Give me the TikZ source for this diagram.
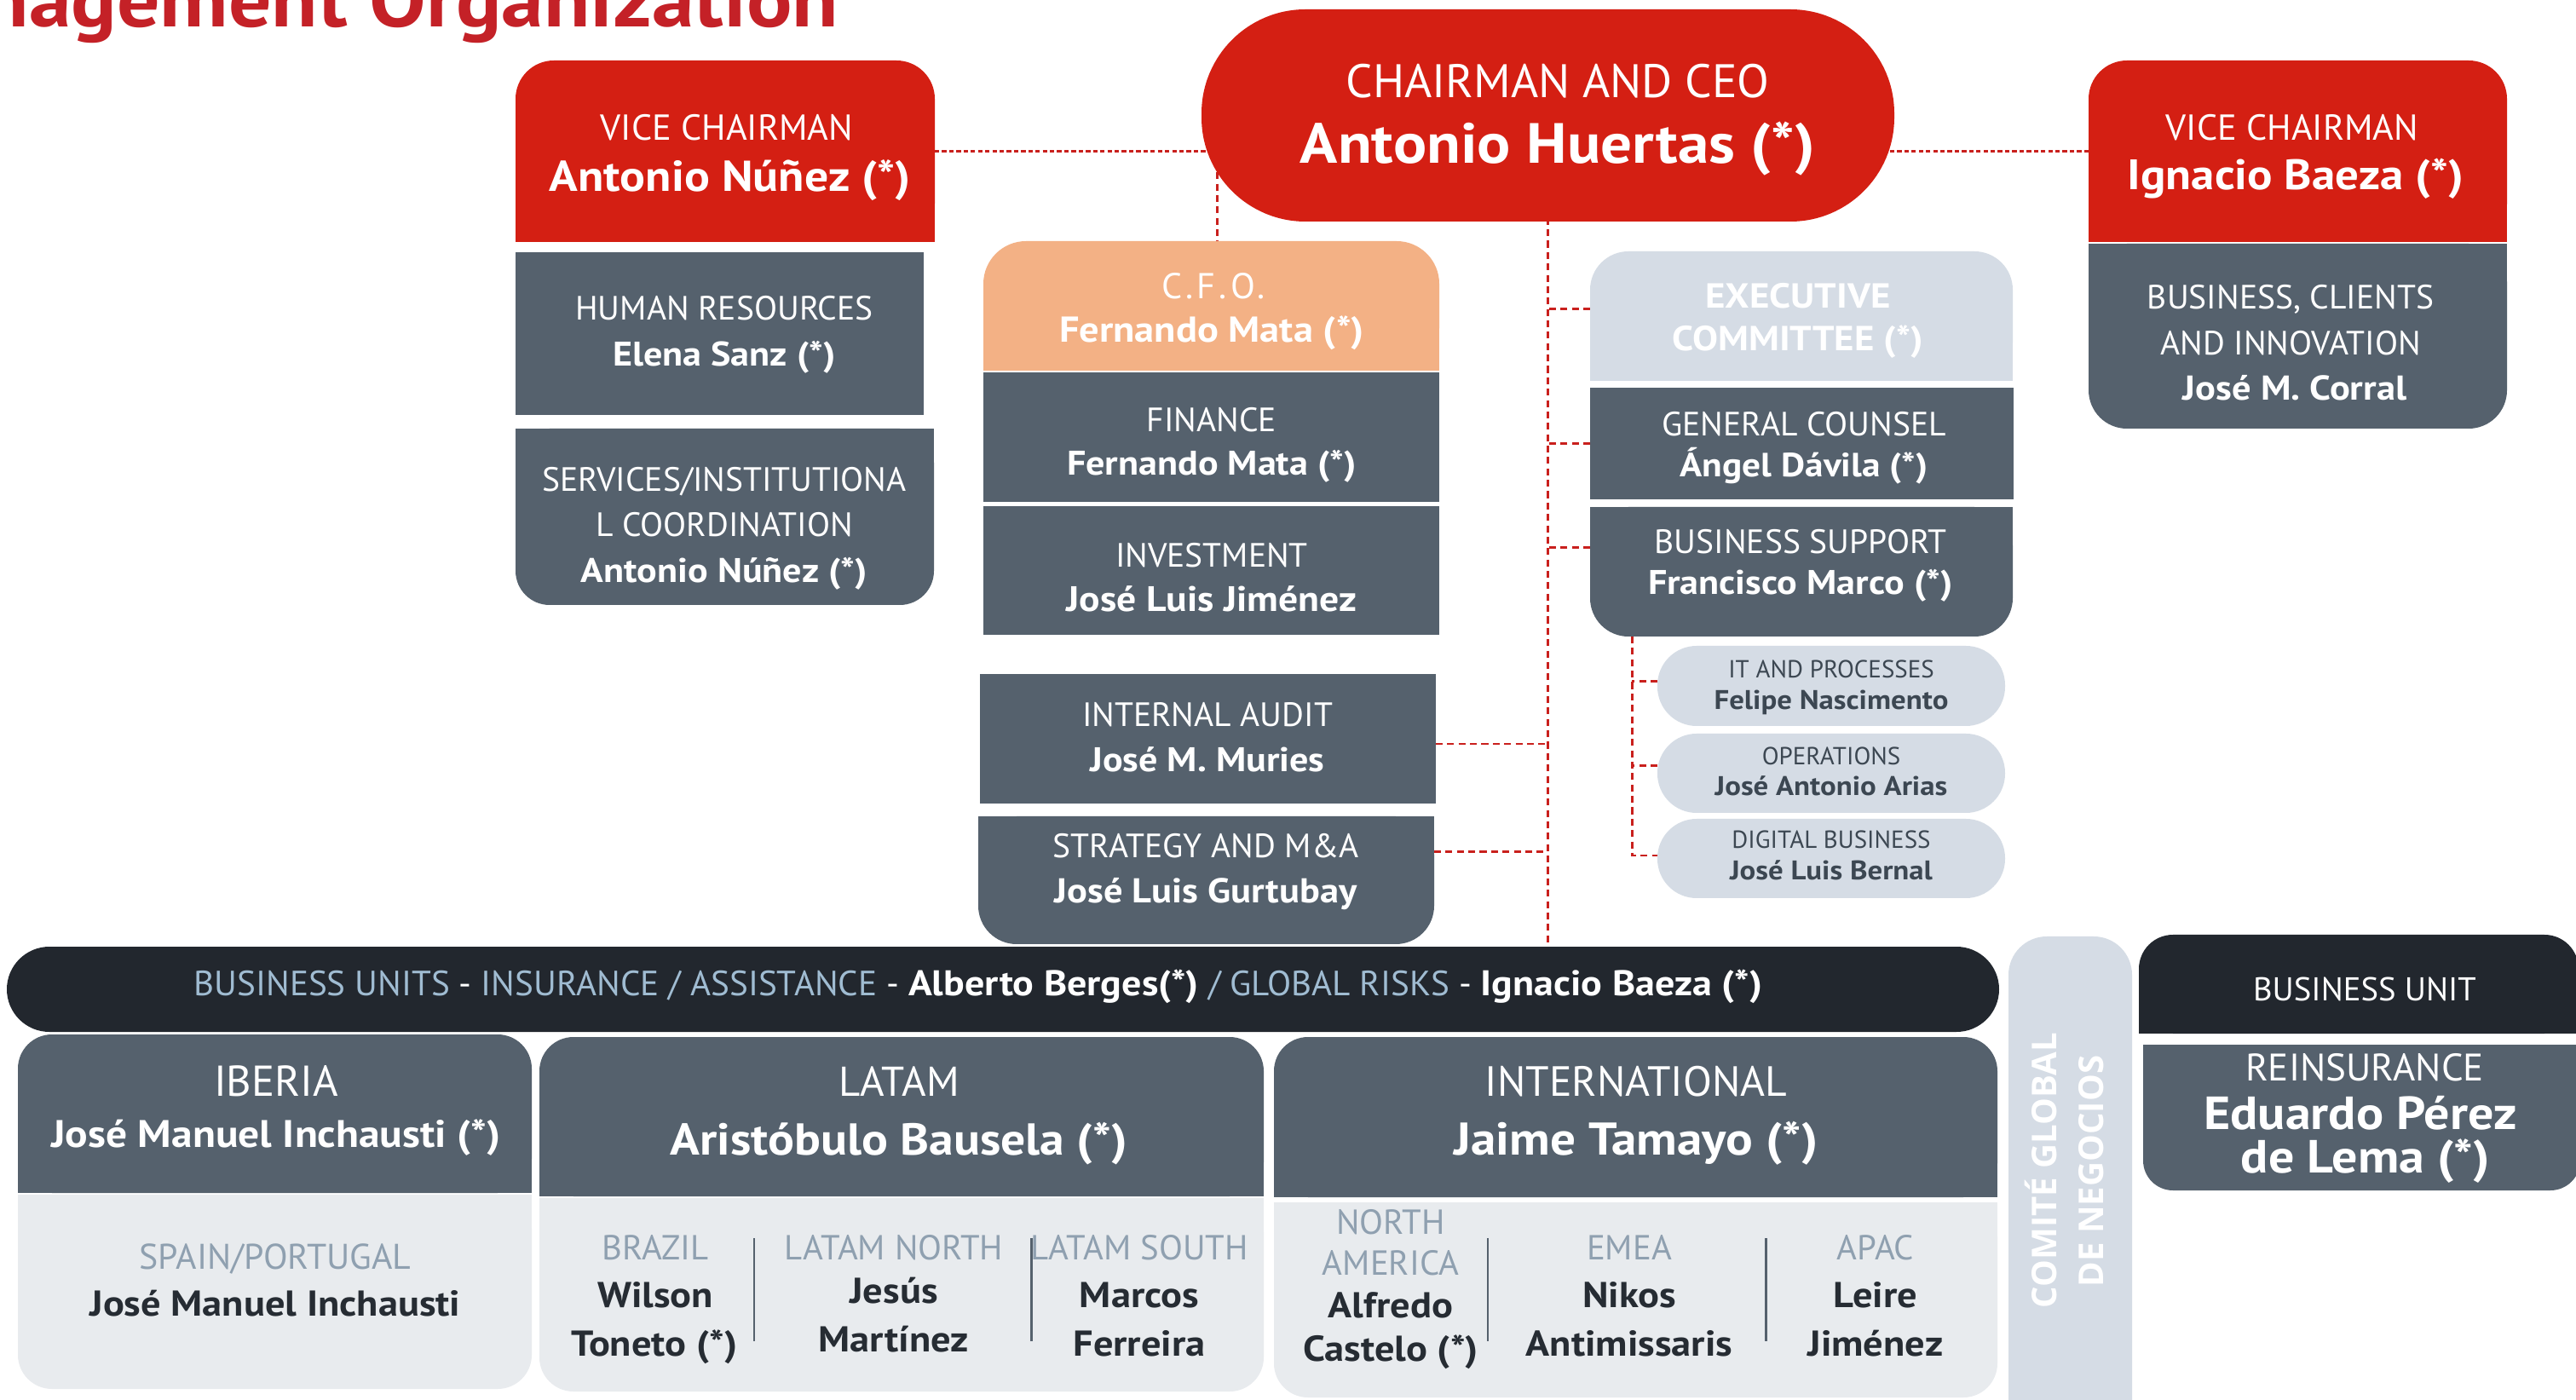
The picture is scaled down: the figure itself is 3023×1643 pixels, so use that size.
\documentclass[tikz,border=0pt]{standalone}
\usepackage{fontspec}
\setmainfont{PT Sans}[BoldFeatures={FakeStretch=1.1}]
\newfontfamily\cmfont{Open Sans}
\definecolor{mred}{HTML}{D41F13}
\definecolor{titlered}{HTML}{C42127}
\definecolor{slate}{HTML}{55616D}
\definecolor{orange}{HTML}{F3B185}
\definecolor{pale}{HTML}{D5DCE5}
\definecolor{light}{HTML}{E8EBEE}
\definecolor{dark}{HTML}{22272E}
\definecolor{bandblue}{HTML}{A0BCD2}
\definecolor{subblue}{HTML}{8FA0B0}
\definecolor{darktext}{HTML}{262C33}
\definecolor{pilltext}{HTML}{3C4752}
\definecolor{dashred}{HTML}{C9201D}
\pgfdeclarelayer{paper}\pgfdeclarelayer{lines}\pgfdeclarelayer{bg}\pgfsetlayers{paper,lines,bg,main}
\newcommand\FS[1]{\fontsize{#1}{#1}\selectfont}
\newcommand\BxNode[5]{\node[inner sep=0pt,outer sep=0pt,minimum width={(#4-#2)*0.01cm},minimum height={(#5-#3)*0.01cm}] (#1) at ({(#2+#4)/2},{(#3+#5)/2}) {};}
\newcommand\BxSq[6]{\BxNode{#1}{#2}{#3}{#4}{#5}\begin{pgfonlayer}{bg}\fill[#6] (#1.south west) rectangle (#1.north east);\end{pgfonlayer}}
\newcommand\BxAll[7]{\BxNode{#1}{#2}{#3}{#4}{#5}\begin{pgfonlayer}{bg}\fill[#6,rounded corners=#7] (#1.south west) rectangle (#1.north east);\end{pgfonlayer}}
\newcommand\BxTop[7]{\BxNode{#1}{#2}{#3}{#4}{#5}\begin{pgfonlayer}{bg}\fill[#6,rounded corners=#7] (#1.south west) rectangle (#1.north east);\fill[#6] (#1.south west) rectangle (#1.east);\end{pgfonlayer}}
\newcommand\BxBot[7]{\BxNode{#1}{#2}{#3}{#4}{#5}\begin{pgfonlayer}{bg}\fill[#6,rounded corners=#7] (#1.south west) rectangle (#1.north east);\fill[#6] (#1.west) rectangle (#1.north east);\end{pgfonlayer}}
\tikzset{
  t/.style={anchor=base,inner sep=0pt,outer sep=0pt,text=white},
  hd/.style={t,font=\FS{11.25}},
  nm/.style={t,font=\bfseries\FS{11.4}},
  ph/.style={t,text=pilltext,font=\FS{8.25}},
  pn/.style={t,text=pilltext,font=\bfseries\FS{9.0}},
  sh/.style={t,text=subblue,font=\FS{11.6}},
  sn/.style={t,text=darktext,font=\bfseries\FS{12.0}},
  dashc/.style={draw=dashred,line width=0.85pt,dash pattern=on 2.3pt off 1.5pt},
  dotc/.style={draw=dashred,line width=0.9pt,dash pattern=on 1.5pt off 0.9pt},
  sepl/.style={draw=slate,line width=0.6pt}
}
\begin{document}
\begin{tikzpicture}[x=0.01cm,y=-0.01cm]
\useasboundingbox (0,0) rectangle (3023,1643);
\begin{pgfonlayer}{paper}
\fill[white] (0,0) rectangle (3023,1643);
\end{pgfonlayer}
% title
\node[anchor=base east,inner sep=0pt,text=titlered,font=\bfseries\FS{25.8}] (title) at (985,32) {nagement Organization};
% boxes
\BxTop{vcl}{605}{71}{1097}{284}{mred}{4.5mm}
\BxSq{hr}{605}{296}{1084}{487}{slate}
\BxBot{serv}{605}{503}{1096}{710}{slate}{4mm}
\BxAll{chair}{1410}{11}{2223}{260}{mred}{12.2mm}
\BxTop{cfo}{1154}{283}{1689}{435}{orange}{5mm}
\BxSq{fin}{1154}{437}{1689}{589}{slate}
\BxSq{inv}{1154}{594}{1689}{745}{slate}
\BxSq{audit}{1150}{791}{1685}{943}{slate}
\BxBot{strat}{1148}{958}{1683}{1108}{slate}{4.5mm}
\BxTop{exec}{1866}{295}{2362}{447}{pale}{4.5mm}
\BxSq{gc}{1866}{455}{2363}{586}{slate}
\BxBot{bs}{1866}{595}{2362}{747}{slate}{4.5mm}
\BxAll{it}{1945}{758}{2353}{852}{pale}{4.6mm}
\BxAll{ops}{1945}{861}{2353}{954}{pale}{4.6mm}
\BxAll{dig}{1945}{961}{2353}{1054}{pale}{4.6mm}
\BxTop{vcr}{2451}{71}{2942}{284}{mred}{4.5mm}
\BxBot{bci}{2451}{286}{2942}{503}{slate}{4.5mm}
\BxAll{band}{8}{1111}{2346}{1211}{dark}{5mm}
\BxTop{iberia}{21}{1214}{624}{1400}{slate}{4mm}
\BxBot{iberiab}{21}{1402}{624}{1630}{light}{4mm}
\BxTop{latam}{633}{1217}{1483}{1404}{slate}{4mm}
\BxBot{latamb}{633}{1406}{1483}{1633}{light}{4mm}
\BxTop{intl}{1495}{1217}{2344}{1405}{slate}{4mm}
\BxBot{intlb}{1495}{1411}{2344}{1640}{light}{4mm}
\BxTop{comite}{2357}{1099}{2502}{1700}{pale}{4.5mm}
\BxTop{bu}{2510}{1097}{3026}{1213}{dark}{4mm}
\BxBot{reins}{2515}{1226}{3028}{1397}{slate}{3.5mm}
% connectors
\begin{pgfonlayer}{lines}
\draw[dotc] (vcl.east) -- (vcl.east -| chair.center);
\draw[dotc] (vcr.west) -- (vcr.west -| chair.center);
\draw[dashc] ([xshift=0.065cm]cfo.north |- chair.center) -- ([xshift=0.065cm]cfo.north);
\draw[dashc] (chair.center) -- (chair.center |- band.north);
\draw[dashc] ([yshift=0.08cm]exec.west) -- ([yshift=0.08cm]exec.west -| chair.center);
\draw[dashc] (gc.west) -- (gc.west -| chair.center);
\draw[dashc] ([yshift=0.28cm]bs.west) -- ([yshift=0.28cm]bs.west -| chair.center);
\draw[dashc] ([yshift=-0.06cm]audit.east) -- ([yshift=-0.06cm]audit.east -| chair.center);
\draw[dashc] ([yshift=0.33cm]strat.east) -- ([yshift=0.33cm]strat.east -| chair.center);
\coordinate (sub) at ([xshift=0.49cm]bs.south west);
\draw[dashc] (sub) |- ([yshift=0.035cm]dig.west);
\draw[dashc] ([yshift=0.05cm]it.west) -- ([yshift=0.05cm]it.west -| sub);
\draw[dashc] ([yshift=0.085cm]ops.west) -- ([yshift=0.085cm]ops.west -| sub);
\end{pgfonlayer}
% texts top
\node[t,font=\FS{15.7}] (chT) at (1828,115) {CHAIRMAN AND CEO};
\node[t,font=\bfseries\FS{18.9}] (chN) at (1828,192) {Antonio Huertas (*)};
\node[t,font=\FS{12.05}] (vclT) at (853,165) {VICE CHAIRMAN};
\node[t,font=\bfseries\FS{14.4}] (vclN) at (857,225) {Antonio Núñez (*)};
\node[hd] (hrT) at (850,376) {HUMAN RESOURCES};
\node[nm] (hrN) at (850,430) {Elena Sanz (*)};
\node[hd] (svT1) at (850,577) {SERVICES/INSTITUTIONA};
\node[hd] (svT2) at (850,630) {L COORDINATION};
\node[nm] (svN) at (850,683.5) {Antonio Núñez (*)};
\node[t,font=\FS{12}\addfontfeature{LetterSpace=10}] (cfoT) at (1424,350.5) {C.F.O.};
\node[t,font=\bfseries\FS{12.0}] (cfoN) at (1422,401.5) {Fernando Mata (*)};
\node[hd] (finT) at (1422,507) {FINANCE};
\node[nm] (finN) at (1422,558) {Fernando Mata (*)};
\node[hd] (invT) at (1422,666) {INVESTMENT};
\node[t,font=\bfseries\FS{11.8}] (invN) at (1422,718) {José Luis Jiménez};
\node[hd] (audT) at (1417,852.5) {INTERNAL AUDIT};
\node[nm] (audN) at (1417,905.6) {José M. Muries};
\node[hd] (strT) at (1415,1007) {STRATEGY AND M\&A};
\node[t,font=\bfseries\FS{11.5}] (strN) at (1415,1060) {José Luis Gurtubay};
\node[t,font=\bfseries\FS{11.6}] (exT1) at (2110,362) {EXECUTIVE};
\node[t,font=\bfseries\FS{11.6}] (exT2) at (2110,412) {COMMITTEE (*)};
\node[hd] (gcT) at (2117,511.7) {GENERAL COUNSEL};
\node[t,font=\bfseries\FS{11.2}] (gcN) at (2117,560) {Ángel Dávila (*)};
\node[hd] (bsT) at (2113,650) {BUSINESS SUPPORT};
\node[nm] (bsN) at (2113,698) {Francisco Marco (*)};
\node[ph] (itT) at (2149,795.7) {IT AND PROCESSES};
\node[pn] (itN) at (2149,832.7) {Felipe Nascimento};
\node[ph] (opT) at (2149,897.7) {OPERATIONS};
\node[pn] (opN) at (2149,934) {José Antonio Arias};
\node[ph] (dgT) at (2149,996) {DIGITAL BUSINESS};
\node[pn] (dgN) at (2149,1033) {José Luis Bernal};
\node[t,font=\FS{12.05}] (vcrT) at (2690,165) {VICE CHAIRMAN};
\node[t,font=\bfseries\FS{14.2}] (vcrN) at (2694,223) {Ignacio Baeza (*)};
\node[hd] (bcT1) at (2688,363) {BUSINESS, CLIENTS};
\node[hd] (bcT2) at (2688,417) {AND INNOVATION};
\node[t,font=\bfseries\FS{11.5}] (bcN) at (2693,470) {José M. Corral};
% band
\node[anchor=base west,inner sep=0pt,text=white,font=\FS{11.7}] (bandT) at (227,1169) {{\color{bandblue}BUSINESS UNITS} - {\color{bandblue}INSURANCE / ASSISTANCE} - {\bfseries\FS{11.9}Alberto Berges(*)} {\color{bandblue}/ GLOBAL RISKS} - {\bfseries\FS{11.9}Ignacio Baeza (*)}};
% bottom headers
\node[t,font=\FS{14.4}] (ibT) at (324,1286) {IBERIA};
\node[t,font=\bfseries\FS{12.8}] (ibN) at (324,1346.5) {José Manuel Inchausti (*)};
\node[t,font=\FS{13.9}] (laT) at (1055,1286) {LATAM};
\node[t,font=\bfseries\FS{14.9}] (laN) at (1055,1355.5) {Aristóbulo Bausela (*)};
\node[t,font=\FS{14.1}] (inT) at (1920,1286) {INTERNATIONAL};
\node[t,font=\bfseries\FS{15.3}] (inN) at (1920,1355.5) {Jaime Tamayo (*)};
% bodies
\node[sh,font=\FS{11.9}] (spT) at (323,1489.5) {SPAIN/PORTUGAL};
\node[sn] (spN) at (323,1544) {José Manuel Inchausti};
\node[sh] (brT) at (769,1478.5) {BRAZIL};
\node[sn] (brN1) at (769,1534) {Wilson};
\node[sn] (brN2) at (768,1591) {Toneto (*)};
\node[sh] (lnT) at (1049,1478.5) {LATAM NORTH};
\node[sn] (lnN1) at (1049,1529) {Jesús};
\node[sn] (lnN2) at (1049,1586.5) {Martínez};
\node[sh] (lsT) at (1337,1478.5) {LATAM SOUTH};
\node[sn] (lsN1) at (1337,1534) {Marcos};
\node[sn] (lsN2) at (1337,1591) {Ferreira};
\draw[sepl] (885,1453) -- (885,1574);
\draw[sepl] (1210.5,1453) -- (1210.5,1574);
\node[sh] (naT1) at (1632,1448) {NORTH};
\node[sh] (naT2) at (1632,1496) {AMERICA};
\node[sn] (naN1) at (1632,1546.7) {Alfredo};
\node[sn] (naN2) at (1632,1597) {Castelo (*)};
\node[sh] (emT) at (1912,1478.5) {EMEA};
\node[sn] (emN1) at (1912,1534) {Nikos};
\node[sn] (emN2) at (1912,1591) {Antimissaris};
\node[sh] (apT) at (2201,1478.5) {APAC};
\node[sn] (apN1) at (2201,1534) {Leire};
\node[sn] (apN2) at (2201,1591) {Jiménez};
\draw[sepl] (1746,1453) -- (1746,1574);
\draw[sepl] (2072.5,1453) -- (2072.5,1574);
% comite
\node[t,rotate=90,font=\cmfont\bfseries\FS{11.4}] (cg1) at (2413,1373.5) {COMITÉ GLOBAL};
\node[t,rotate=90,font=\cmfont\bfseries\FS{11.4}] (cg2) at (2468,1374.5) {DE NEGOCIOS};
% business unit
\node[t,font=\FS{11.0}] (buT) at (2775,1175) {BUSINESS UNIT};
\node[t,font=\FS{12.8}] (reT) at (2775,1268) {REINSURANCE};
\node[t,font=\bfseries\FS{15.5}] (reN1) at (2770,1325) {Eduardo Pérez};
\node[t,font=\bfseries\FS{15.5}] (reN2) at (2776,1376.7) {de Lema (*)};
\end{tikzpicture}
\end{document}
